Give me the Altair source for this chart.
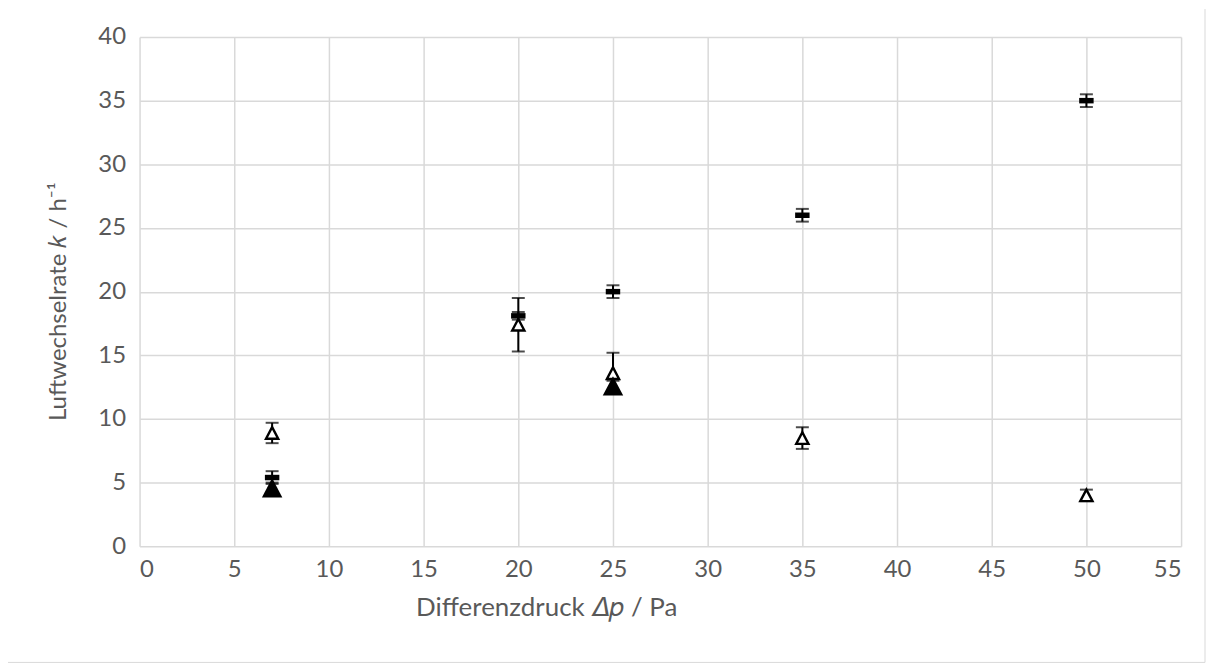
import altair as alt
import pandas as pd

# Series A: dash markers
x_a = [7, 20, 25, 35, 50]
y_a = [5.4, 18.1, 20.0, 26.0, 35.0]
err_a = [0.5, 0.3, 0.5, 0.5, 0.5]

# Series B: open triangles
x_b = [7, 20, 25, 35, 50]
y_b = [8.9, 17.4, 13.6, 8.5, 4.0]
err_b = [0.8, 2.1, 1.6, 0.85, 0.45]

# Series C: filled triangles
x_c = [7, 25]
y_c = [4.6, 12.6]
err_c = [0.4, 0.4]

x_ticks = list(range(0, 56, 5))
y_ticks = list(range(0, 41, 5))


def frame(xs, ys, es):
    return pd.DataFrame({
        "x": xs, "y": ys,
        "lo": [v - e for v, e in zip(ys, es)],
        "hi": [v + e for v, e in zip(ys, es)],
    })


df_a = frame(x_a, y_a, err_a)
df_b = frame(x_b, y_b, err_b)
df_c = frame(x_c, y_c, err_c)

FONT = "Lato, DejaVu Sans, sans-serif"
xs = alt.Scale(domain=[0, 55], nice=False, zero=True)
ys = alt.Scale(domain=[0, 40], nice=False, zero=True)

x_axis = alt.Axis(
    values=x_ticks, title="Differenzdruck 𝛥𝑝 / Pa",
    titleX=408, titleY=61, titleAnchor="start", titleAlign="center",
    titleBaseline="middle", titleFontSize=26,
)
y_axis = alt.Axis(
    values=y_ticks, title="Luftwechselrate 𝑘 / h⁻¹",
    titleX=-81, titleY=265, titleAngle=270, titleAlign="center",
    titleBaseline="middle",
)


def errbars(df):
    base = alt.Chart(df)
    rule = base.mark_rule(color="black", strokeWidth=2).encode(
        x=alt.X("x:Q", scale=xs, axis=x_axis),
        y=alt.Y("lo:Q", scale=ys, axis=y_axis),
        y2="hi:Q",
    )
    cap_lo = base.mark_tick(color="black", orient="horizontal", size=13, thickness=2).encode(
        x=alt.X("x:Q", scale=xs), y=alt.Y("lo:Q", scale=ys)
    )
    cap_hi = base.mark_tick(color="black", orient="horizontal", size=13, thickness=2).encode(
        x=alt.X("x:Q", scale=xs), y=alt.Y("hi:Q", scale=ys)
    )
    return rule + cap_lo + cap_hi


DASH = "M-1,-0.38L1,-0.38L1,0.38L-1,0.38Z"
TRI = "M0,-0.95L1,0.95L-1,0.95Z"

mark_a = alt.Chart(df_a).mark_point(
    shape=DASH, filled=True, fill="black", stroke="black", strokeWidth=0, size=210, opacity=1
).encode(x=alt.X("x:Q", scale=xs), y=alt.Y("y:Q", scale=ys))

mark_b = alt.Chart(df_b).mark_point(
    shape=TRI, filled=True, fill="white", stroke="black", strokeWidth=2.4, size=150, opacity=1
).encode(x=alt.X("x:Q", scale=xs), y=alt.Y("y:Q", scale=ys))

mark_c = alt.Chart(df_c).mark_point(
    shape=TRI, filled=True, fill="black", stroke="black", strokeWidth=0, size=420, opacity=1
).encode(x=alt.X("x:Q", scale=xs), y=alt.Y("y:Q", scale=ys))

one = pd.DataFrame({"a": [0]})
border_r = alt.Chart(one).mark_rule(color="#d9d9d9", strokeWidth=1).encode(
    x=alt.value(1069), y=alt.value(-28), y2=alt.value(627.5)
)
border_b = alt.Chart(one).mark_rule(color="#d9d9d9", strokeWidth=1).encode(
    x=alt.value(-132), x2=alt.value(1069), y=alt.value(627.5)
)

chart = alt.layer(
    border_r, border_b,
    errbars(df_a), mark_a,
    errbars(df_b), mark_b,
    errbars(df_c), mark_c,
).properties(
    width=1045, height=511,
    autosize="none",
    padding={"left": 132, "top": 28, "right": 25, "bottom": 117},
).configure_view(
    strokeWidth=0
).configure_axis(
    grid=True, gridColor="#d9d9d9", gridWidth=1.5,
    domain=False, ticks=False,
    labelColor="#595959", labelFont=FONT, labelFontSize=24,
    titleColor="#595959", titleFont=FONT, titleFontSize=24, titleFontWeight="normal",
).configure_axisX(
    labelPadding=11,
).configure_axisY(
    labelPadding=14,
)

chart.save("out.html", embed_options={"renderer": "svg", "actions": False})
